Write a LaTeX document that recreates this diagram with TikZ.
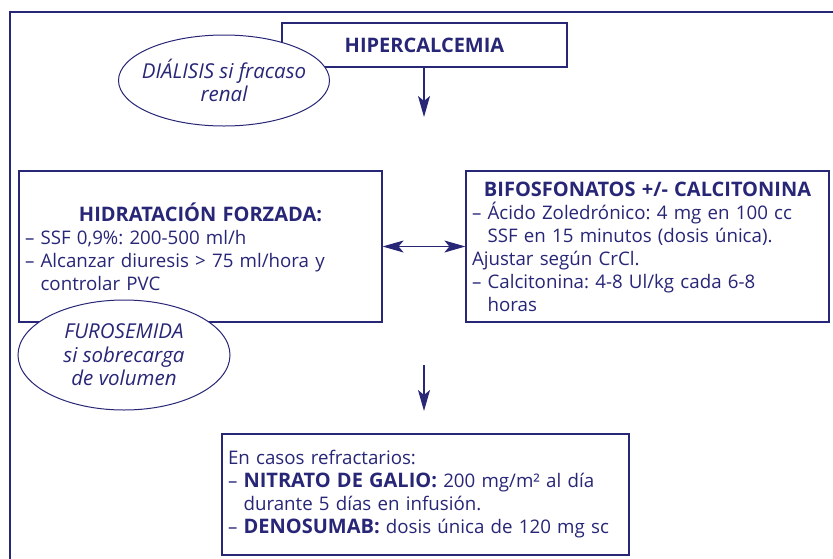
\documentclass[tikz,border=0pt]{standalone}
\usepackage{fontspec}
\setmainfont{Open Sans}
\usepackage{tikz}
\usetikzlibrary{positioning, arrows.meta, shapes.geometric}
\definecolor{azul}{RGB}{40,38,118}
\frenchspacing
\newcommand{\sangria}{\phantom{– }}
\newcommand{\negrita}[1]{{\fontsize{20}{23}\selectfont\bfseries #1}}
\tikzset{
    caja/.style={draw=azul, line width=1.2pt, fill=white, text=azul, inner xsep=6pt, inner ysep=4pt, font=\fontsize{18.7}{23}\selectfont},
    nota/.style={draw=azul, line width=1pt, ellipse, fill=white, inner sep=0pt},
    notatexto/.style={text=azul, align=center, font=\fontsize{20.5}{23.5}\selectfont\itshape},
    flecha/.style={-{Stealth[length=21pt, width=12pt, inset=5pt]}, line width=1.4pt, draw=azul, fill=azul},
    dflecha/.style={{Stealth[length=21pt, width=12pt, inset=5pt]}-{Stealth[length=21pt, width=12pt, inset=5pt]}, line width=1pt, draw=azul, fill=azul},
}

\begin{document}
\begin{tikzpicture}[x=1pt, y=-1pt]
        \useasboundingbox (0,0) rectangle (833,558);
        % Marco
        \draw[azul, line width=2.4pt] (10,570) -- (10,12) -- (845,12);
        % Cajas
        \node[caja, minimum width=285pt, minimum height=44pt] (hiper) at (424.5,45) {\negrita{HIPERCALCEMIA}};
        \node[caja, text width=351pt, minimum height=151pt] (hidra) at (200.5,246.5) {\centering\negrita{HIDRATACIÓN FORZADA:}\par\raggedright
            – SSF 0,9\%: 200-500 ml/h\\
            – Alcanzar diuresis > 75 ml/hora y\\
            \sangria controlar PVC};
        \node[caja, text width=351pt, minimum height=151pt] (bifo) at (647.5,246.5) {\centering\negrita{BIFOSFONATOS +/- CALCITONINA}\par\raggedright
            – Ácido Zoledrónico: 4 mg en 100 cc\\
            \sangria SSF en 15 minutos (dosis única).\\
            Ajustar según CrCl.\\
            – Calcitonina: 4-8 Ul/kg cada 6-8\\
            \sangria horas};
        \node[caja, text width=395pt, minimum height=121pt] (refr) at (425.5,494.5) {\raggedright
            En casos refractarios:\\
            – \negrita{NITRATO DE GALIO:} 200 mg/m² al día\\
            \sangria durante 5 días en infusión.\\
            – \negrita{DENOSUMAB:} dosis única de 120 mg sc};
        % Notas
        \node[nota, minimum width=211pt, minimum height=91pt] (dial) at (224,80.5) {};
        \node[notatexto] (dialt) at (dial) {DIÁLISIS si fracaso\\renal};
        \node[nota, minimum width=212pt, minimum height=110pt] (furo) at (124,355) {};
        \node[notatexto] (furot) at (furo) {FUROSEMIDA\\si sobrecarga\\de volumen};
        % Flechas
        \coordinate (f1) at (424,117);
        \coordinate (f2a) at (424,365);
        \coordinate (f2b) at (424,411);
        \draw[flecha] (hiper.south -| f1) -- (f1);
        \draw[dflecha] (hidra.east) -- (bifo.west);
        \draw[flecha] (f2a) -- (f2b);
    \end{tikzpicture}
\end{document}
